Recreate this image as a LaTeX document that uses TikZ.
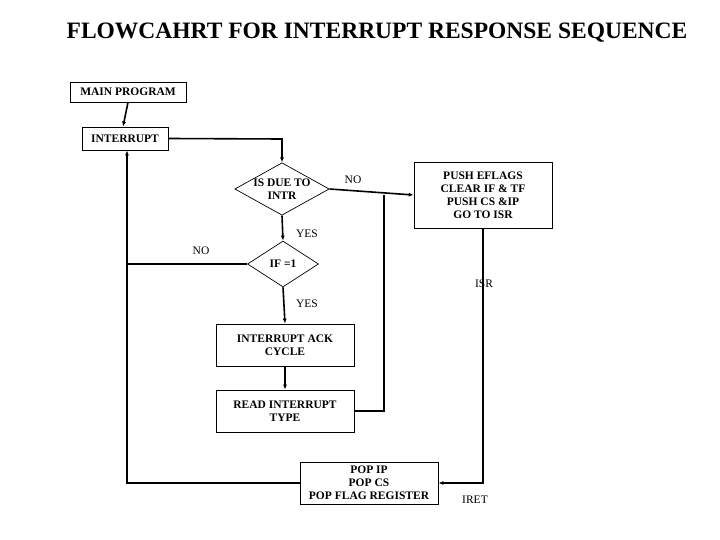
\documentclass[tikz,border=0pt]{standalone}
\usepackage{fontspec}
\setmainfont{Liberation Serif}
\usetikzlibrary{shapes.geometric,arrows.meta}
\begin{document}
\begin{tikzpicture}[x=1pt,y=-1pt,
  box/.style={draw,line width=0.7pt,inner sep=0pt,font=\bfseries\fontsize{11.5}{13}\selectfont,align=center},
  lbl/.style={font=\fontsize{11.5}{13}\selectfont},
  ln/.style={line width=1.6pt},
  ar/.style={ln,-{Latex[length=5pt,width=4pt]}}]
\useasboundingbox (0,0) rectangle (720,540);
\node[font=\bfseries\fontsize{23.5}{26}\selectfont] (title) at (377,33) {FLOWCAHRT FOR INTERRUPT RESPONSE SEQUENCE};
\node[box,minimum width=116pt,minimum height=20pt] (main) at (128,92) {MAIN PROGRAM};
\node[box,minimum width=86pt,minimum height=23pt] (intr) at (125,138.5) {INTERRUPT};
\node[box,diamond,aspect=1.8,minimum width=94pt,minimum height=52pt,inner sep=0pt] (d1) at (282,189) {IS DUE TO\\INTR};
\node[box,diamond,aspect=1.55,minimum width=71pt,minimum height=46pt,inner sep=0pt] (d2) at (283,264) {IF =1};
\node[box,minimum width=138pt,minimum height=66pt] (push) at (483,195) {PUSH EFLAGS\\CLEAR IF \& TF\\PUSH CS \&IP\\GO TO ISR};
\node[box,minimum width=138pt,minimum height=42pt] (ack) at (285,345) {INTERRUPT ACK\\CYCLE};
\node[box,minimum width=138pt,minimum height=42pt] (read) at (285,411) {READ INTERRUPT\\TYPE};
\node[box,minimum width=138pt,minimum height=42pt] (pop) at (369,483) {POP IP\\POP CS\\POP FLAG REGISTER};
\coordinate (c1) at (282,139);
\coordinate (c2) at (384,411);
\coordinate (c3) at (384,195);
\coordinate (c4) at (483,483);
\coordinate (c5) at (127,483);
\coordinate (c6) at (127,264);
\draw[ar] (main.south) -- ([xshift=-2pt]intr.north);
\draw[ar] (intr.east) -- (c1) -- (d1.north);
\draw[ar] (d1.east) -- (push.west);
\draw[ar] (d1.south) -- (d2.north);
\draw[ar] (d2.south) -- (ack.north);
\draw[ar] (ack.south) -- (read.north);
\draw[ln] (read.east) -- (c2) -- (c3);
\draw[ar] (push.south) -- (c4) -- (pop.east);
\draw[ar] (pop.west) -- (c5) -- (c6) -- (intr.south -| c5);
\draw[ln] (d2.west) -- (c6);
\node[lbl] (no1) at (353,180) {NO};
\node[lbl] (yes1) at (307,234) {YES};
\node[lbl] (no2) at (201,251) {NO};
\node[lbl] (yes2) at (307,304) {YES};
\node[lbl] (isr) at (484,284) {ISR};
\node[lbl] (iret) at (475,500) {IRET};
\end{tikzpicture}
\end{document}
